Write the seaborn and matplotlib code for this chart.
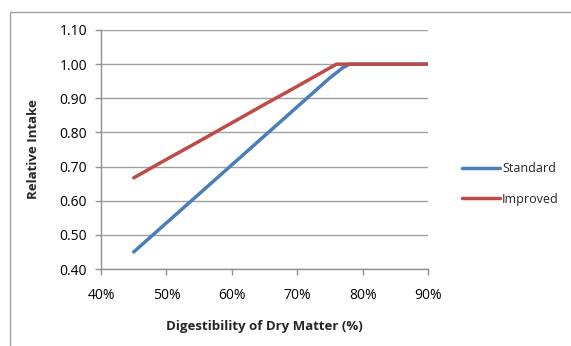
import pandas as pd
import seaborn as sns
from matplotlib import pyplot as plt
from matplotlib.patches import Rectangle
from matplotlib.ticker import FuncFormatter

# digestibility (%) and relative intake for the two breeds
standard_x = [45, 50, 55, 60, 65, 70, 75, 76, 77, 78, 80, 85, 90]
standard_y = [0.45, 0.535, 0.62, 0.705, 0.79, 0.875, 0.96, 0.975, 0.99, 1.00, 1.00, 1.00, 1.00]
improved_x = [45, 50, 55, 60, 65, 70, 76, 80, 85, 90]
improved_y = [0.667, 0.721, 0.774, 0.828, 0.882, 0.935, 1.00, 1.00, 1.00, 1.00]

df = pd.concat([
    pd.DataFrame({"x": standard_x, "y": standard_y, "series": "Standard"}),
    pd.DataFrame({"x": improved_x, "y": improved_y, "series": "Improved"}),
])

sns.set_style("white")
plt.rcParams['font.family'] = ['Open Sans', 'DejaVu Sans']

fig = plt.figure(figsize=(5.71, 3.46), dpi=100)
ax = fig.add_axes([0.1769, 0.2225, 0.5727, 0.6908])

# outer chart frame (only top and left edges show)
fig.patches.append(Rectangle((10 / 571, -0.1), 1.2, 1 - 12 / 346 + 0.1,
                             transform=fig.transFigure, fill=False,
                             edgecolor="#a0a0a0", linewidth=1.0))

sns.lineplot(data=df, x="x", y="y", hue="series", sort=False,
             palette={"Standard": "#4a7ebb", "Improved": "#be4b48"},
             linewidth=2.5, ax=ax, legend=True)

ax.set_xlim(40, 90)
ax.set_ylim(0.40, 1.10)
ax.set_xticks([40, 50, 60, 70, 80, 90])
ax.set_yticks([0.4, 0.5, 0.6, 0.7, 0.8, 0.9, 1.0, 1.1])
ax.xaxis.set_major_formatter(FuncFormatter(lambda v, p: f"{v:.0f}%"))
ax.yaxis.set_major_formatter(FuncFormatter(lambda v, p: f"{v:.2f}"))
ax.grid(axis="y", color="#a0a0a0", linewidth=1.0)
ax.set_axisbelow(True)

for s in ["top", "right"]:
    ax.spines[s].set_visible(False)
for s in ["left", "bottom"]:
    ax.spines[s].set_color("#909090")
    ax.spines[s].set_linewidth(1.0)

ax.tick_params(axis="both", which="major", length=4, width=1, color="#909090",
               labelsize=10, labelcolor="#000000", direction="out", bottom=True, left=True)
ax.tick_params(axis="x", pad=10)
ax.tick_params(axis="y", pad=6)

ax.set_xlabel("Digestibility of Dry Matter (%)", fontsize=9.5, fontweight="bold", labelpad=12)
ax.set_ylabel("Relative Intake", fontsize=9.5, fontweight="bold", labelpad=14)

handles, labels = ax.get_legend_handles_labels()
ax.legend(handles, labels, loc="center left", bbox_to_anchor=(1.07, 0.356),
          frameon=False, fontsize=9, handlelength=3.0, handletextpad=0.2,
          labelspacing=1.4)

plt.savefig("out.png", dpi=100)
